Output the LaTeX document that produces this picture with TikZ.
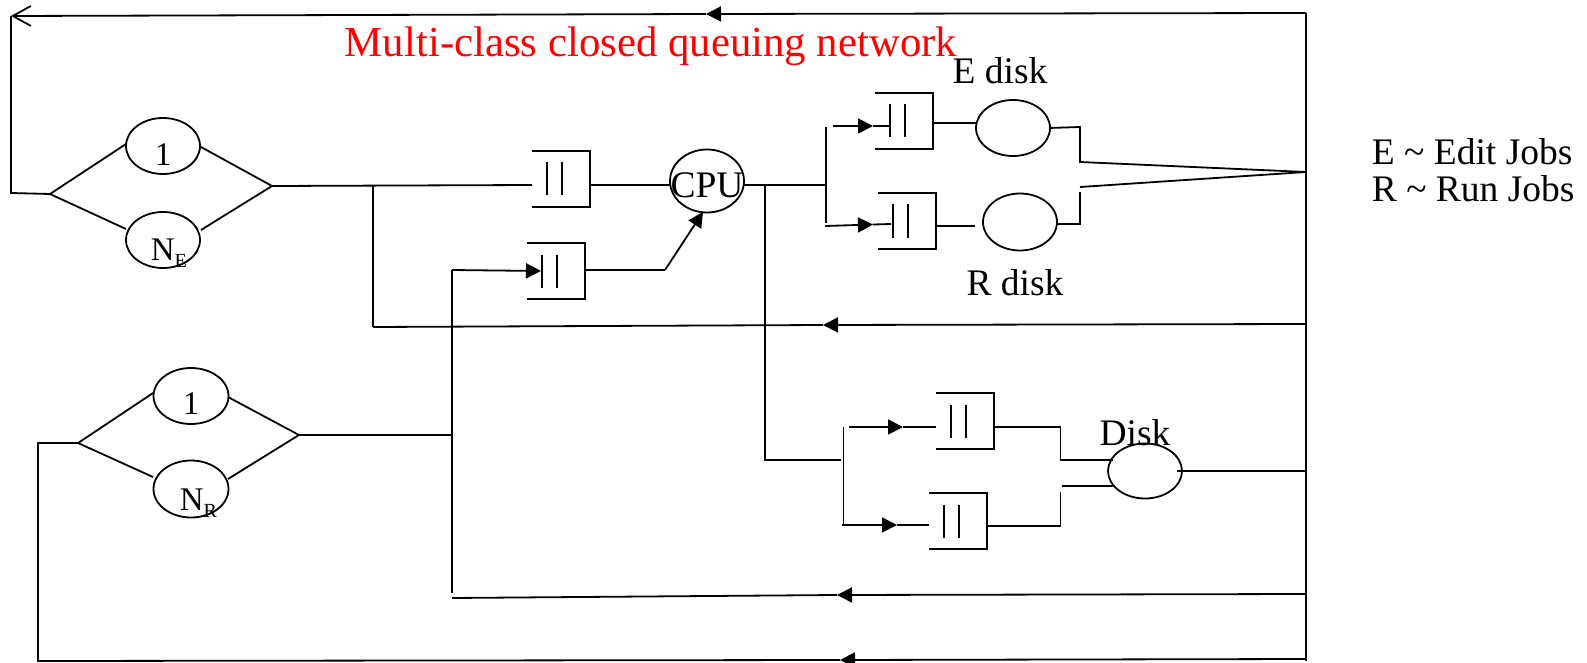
\documentclass[tikz,border=0pt]{standalone}
\usepackage{fontspec}
\setmainfont{Liberation Serif}
\usetikzlibrary{shapes.geometric,arrows.meta}
\begin{document}
\begin{tikzpicture}[x=1pt,y=-1pt,line width=1.8pt,
  ell/.style={draw,ellipse,line width=1.8pt,inner sep=0pt,minimum width=74pt,minimum height=56pt},
  txt/.style={font=\fontsize{37.5}{40}\selectfont,inner sep=0pt},
  smalltxt/.style={font=\fontsize{33}{35}\selectfont,inner sep=0pt},
  arr/.style={-{Triangle[length=15pt,width=15pt]}},
  openarr/.style={-{Straight Barb[length=18pt,width=20pt]}},
  queuebox/.pic={
    \draw (0,-28) -- (58,-28) -- (58,28) -- (0,28);
    \draw (15,-16.5) -- (15,16.5) (30,-16.5) -- (30,16.5);
  }]
\useasboundingbox (0,0) rectangle (1587,663);
\clip (0,0) rectangle (1587,663);

% ---------- title and legend ----------
\node[anchor=base west,inner sep=0pt,text=red,font=\fontsize{42.8}{45}\selectfont] (title) at (344,57) {Multi-class closed queuing network};
\node[txt,anchor=base west] (lg1) at (1371,165) {E \textasciitilde{} Edit Jobs};
\node[txt,anchor=base west] (lg2) at (1371,201) {R \textasciitilde{} Run Jobs};

% ---------- terminals E ----------
\node[ell] (e1) at (163,146) {};
\node[ell] (ne) at (163,240) {};
\node[smalltxt] (e1t) at (163,155) {1};
\node[smalltxt,anchor=base west] (net) at (150,260) {N\raisebox{-7pt}{\fontsize{20}{20}\selectfont E}};

% ---------- terminals R ----------
\node[ell,minimum width=75pt] (r1) at (191,396) {};
\node[ell,minimum width=75pt,minimum height=57pt] (nr) at (191,489) {};
\node[smalltxt] (r1t) at (191,404) {1};
\node[smalltxt,anchor=base west] (nrt) at (179,510) {N\raisebox{-7pt}{\fontsize{20}{20}\selectfont R}};

% ---------- servers ----------
\node[ell,minimum height=63pt] (cpu) at (707,181) {};
\node[txt] (cput) at (707,185) {CPU};
\node[ell] (ed) at (1013,128) {};
\node[ell,minimum height=57pt] (rd) at (1020,222) {};
\node[ell,minimum height=55pt] (dk) at (1145,471) {};
\node[txt,anchor=base] (edt) at (1000,84) {E disk};
\node[txt,anchor=base] (rdt) at (1015,295) {R disk};
\node[txt,anchor=base] (dkt) at (1135,445) {Disk};

% ---------- queues ----------
\pic (q1) at (532,179) {queuebox};
\pic (q2) at (527,271) {queuebox};
\pic (qe) at (875,121) {queuebox};
\pic (qr) at (878,221) {queuebox};
\pic (qd1) at (936,421) {queuebox};
\pic (qd2) at (929,521) {queuebox};

% ---------- coordinates ----------
\coordinate (TR) at (1306,13);
\coordinate (TA) at (706,14);
\coordinate (TL) at (11,16);
\coordinate (LB) at (11,193);
\coordinate (dEl) at (50,194);
\coordinate (dEr) at (272,186);
\coordinate (bE) at (373,186);
\coordinate (q1in) at (532,185);
\coordinate (q1out) at (591,185);
\coordinate (cpuin) at (670,185);
\coordinate (R2) at (1306,324);
\coordinate (A2) at (823,325);
\coordinate (L2) at (373,327);
\coordinate (v2t) at (452,270);
\coordinate (v2b) at (452,593);
\coordinate (q2bar) at (541,271);
\coordinate (q2out) at (585,270);
\coordinate (bend) at (665,270);
\coordinate (cpuB) at (703,212);
\coordinate (cpuR) at (744,185);
\coordinate (f1) at (826,185);
\coordinate (f1t) at (826,127);
\coordinate (f1b) at (826,223);
\coordinate (ua) at (833,126);
\coordinate (uat) at (873,126);
\coordinate (ub) at (890,126);
\coordinate (la) at (825,226);
\coordinate (lat) at (873,224.5);
\coordinate (lb) at (891,224);
\coordinate (qeout) at (934,123);
\coordinate (edin) at (976,123);
\coordinate (qrout) at (936,226);
\coordinate (rdin) at (975,226);
\coordinate (edout) at (1049,128);
\coordinate (ej1) at (1080,127);
\coordinate (ej2) at (1080,162);
\coordinate (RM) at (1306,172);
\coordinate (rdout) at (1057,224);
\coordinate (rj1) at (1080,224);
\coordinate (rj2) at (1080,192);
\coordinate (rj3) at (1080,187);
\coordinate (vc) at (765,185);
\coordinate (vcb) at (765,460);
\coordinate (f2in) at (841,460);
\coordinate (f2t) at (843.5,427);
\coordinate (f2b) at (843.5,525);
\coordinate (da1) at (849,427);
\coordinate (da1t) at (903,427);
\coordinate (da1e) at (936,427);
\coordinate (da2) at (841.6,525);
\coordinate (da2t) at (897,525);
\coordinate (da2e) at (929,525);
\coordinate (qd1out) at (995,427);
\coordinate (dj1) at (1060.5,427);
\coordinate (dj2) at (1060.5,460);
\coordinate (dkin1) at (1113,460);
\coordinate (qd2out) at (988,526);
\coordinate (dj3) at (1060.5,526);
\coordinate (dj4) at (1060.5,492);
\coordinate (dj5) at (1061.7,486);
\coordinate (dkin2) at (1113,486);
\coordinate (dkout) at (1176.5,471);
\coordinate (RD) at (1306,471);
\coordinate (R3) at (1306,594);
\coordinate (A3) at (837,595);
\coordinate (L3) at (452,598);
\coordinate (RB) at (1306,659);
\coordinate (AB) at (840,660);
\coordinate (LBB) at (38,661);
\coordinate (LRv) at (38,443);
\coordinate (dRl) at (78,443);
\coordinate (dRr) at (299,435);
\coordinate (bR) at (452,435);
\coordinate (RBot) at (1306,661);

% ---------- top loop ----------
\draw[arr] (TR) -- (TA);
\draw[openarr] (TA) -- (TL);
\draw (TL) -- (LB) -- (dEl);
\draw (TR) -- (RBot);

% ---------- E diamond ----------
\draw (dEl) -- (126,144);
\draw (dEl) -- (126,229);
\draw (201,147) -- (dEr);
\draw (201,230) -- (dEr);
\draw (dEr) -- (q1in);
\draw (bE) -- (L2);
\draw[arr] (R2) -- (A2);
\draw (A2) -- (L2);

% ---------- CPU ----------
\draw (q1out) -- (cpuin);
\draw (v2t) -- (v2b);
\draw[arr] (v2t) -- (q2bar);
\draw (q2out) -- (bend);
\draw[arr] (bend) -- (cpuB);
\draw (cpuR) -- (f1);

% ---------- E / R disk ----------
\draw (f1t) -- (f1b);
\draw[arr] (ua) -- (uat);
\draw (uat) -- (ub);
\draw[arr] (la) -- (lat);
\draw (lat) -- (lb);
\draw (qeout) -- (edin);
\draw (qrout) -- (rdin);
\draw (edout) -- (ej1) -- (ej2) -- (RM);
\draw (rdout) -- (rj1) -- (rj2);
\draw (rj3) -- (RM);

% ---------- Disk ----------
\draw (vc) -- (vcb) -- (f2in);
\draw (f2t) -- (f2b);
\draw[arr] (da1) -- (da1t);
\draw (da1t) -- (da1e);
\draw[arr] (da2) -- (da2t);
\draw (da2t) -- (da2e);
\draw (qd1out) -- (dj1) -- (dj2) -- (dkin1);
\draw (qd2out) -- (dj3) -- (dj4);
\draw (dj5) -- (dkin2);
\draw (dkout) -- (RD);
\draw[arr] (R3) -- (A3);
\draw (A3) -- (L3);

% ---------- R diamond ----------
\draw (dRl) -- (153,393);
\draw (dRl) -- (153,477);
\draw (228,397) -- (dRr);
\draw (228,479) -- (dRr);
\draw (dRr) -- (bR);
\draw[arr] (RB) -- (AB);
\draw (AB) -- (LBB) -- (LRv) -- (dRl);
\end{tikzpicture}
\end{document}
